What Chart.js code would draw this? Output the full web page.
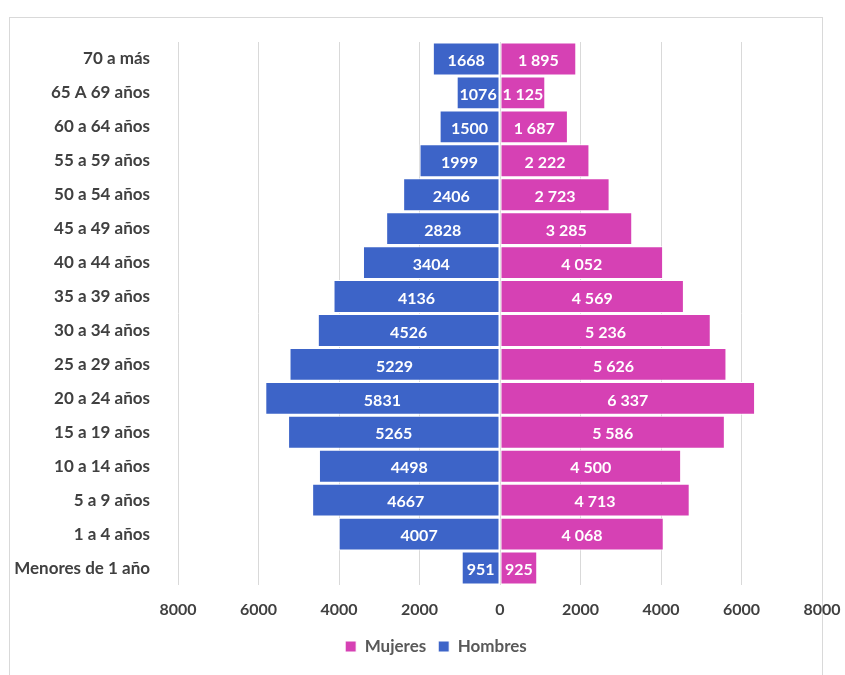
<!DOCTYPE html>
<html>
<head>
<meta charset="utf-8">
<script src="https://cdn.jsdelivr.net/npm/chart.js@4.4.1/dist/chart.umd.min.js"></script>
<style>
  body { margin: 0; background: #fff; }
  #wrap { position: relative; width: 845px; height: 675px; }
  #frame {
    position: absolute; left: 9px; top: 17px; width: 814px; height: 670px;
    border: 1px solid #d9d9d9; box-sizing: border-box;
  }
  canvas { position: absolute; left: 0; top: 0; }
</style>
</head>
<body>
<div id="wrap">
  <div id="frame"></div>
  <canvas id="pyramid" width="845" height="675"></canvas>
</div>
<script>
// age groups, top to bottom
const ageGroups = [
  "70 a más", "65 A 69 años", "60 a 64 años", "55 a 59 años", "50 a 54 años",
  "45 a 49 años", "40 a 44 años", "35 a 39 años", "30 a 34 años", "25 a 29 años",
  "20 a 24 años", "15 a 19 años", "10 a 14 años", "5 a 9 años", "1 a 4 años",
  "Menores de 1 año"
];
const hombres = [1668, 1076, 1500, 1999, 2406, 2828, 3404, 4136, 4526, 5229, 5831, 5265, 4498, 4667, 4007, 951];
const mujeres = [1895, 1125, 1687, 2222, 2723, 3285, 4052, 4569, 5236, 5626, 6337, 5586, 4500, 4713, 4068, 925];
const xTicks = [-8000, -6000, -4000, -2000, 0, 2000, 4000, 6000, 8000];

const blue = "#3d64c8";
const pink = "#d641b4";
const fontFam = "Lato, 'Open Sans', sans-serif";

// mujeres use a space as thousands separator, hombres none
function fmtSpace(v) {
  return String(v).replace(/\B(?=(\d{3})+(?!\d))/g, " ");
}

// white labels centred in each bar, clipped to the bar
const barLabels = {
  id: "barLabels",
  afterLayout(chart) {
    // legend sits a bit right of centre in the original
    chart.legend.left += 25;
    chart.legend.right += 25;
  },
  afterDatasetsDraw(chart) {
    const ctx = chart.ctx;
    chart.data.datasets.forEach((ds, i) => {
      const meta = chart.getDatasetMeta(i);
      meta.data.forEach((bar, j) => {
        const p = bar.getProps(["x", "y", "base", "height"], true);
        const left = Math.min(p.x, p.base), right = Math.max(p.x, p.base);
        const raw = Math.abs(ds.data[j]);
        const txt = ds.label === "Mujeres" ? fmtSpace(raw) : String(raw);
        ctx.save();
        ctx.beginPath();
        ctx.rect(left, p.y - p.height / 2, right - left, p.height);
        ctx.clip();
        ctx.fillStyle = "#ffffff";
        ctx.font = "bold 16px " + fontFam;
        ctx.textAlign = "center";
        ctx.textBaseline = "middle";
        ctx.fillText(txt, (left + right) / 2, p.y + 2);
        ctx.restore();
      });
    });
  }
};

new Chart(document.getElementById("pyramid"), {
  type: "bar",
  data: {
    labels: ageGroups,
    datasets: [
      {
        label: "Mujeres",
        data: mujeres,
        backgroundColor: pink,
        borderColor: "#ffffff",
        borderWidth: 1,
        borderSkipped: false,
        barPercentage: 0.97,
        categoryPercentage: 1
      },
      {
        label: "Hombres",
        data: hombres.map(v => -v),
        backgroundColor: blue,
        borderColor: "#ffffff",
        borderWidth: 1,
        borderSkipped: false,
        barPercentage: 0.97,
        categoryPercentage: 1
      }
    ]
  },
  options: {
    indexAxis: "y",
    responsive: false,
    animation: false,
    layout: { padding: { top: 42, right: 23, bottom: 10, left: 0 } },
    plugins: {
      legend: {
        position: "bottom",
        labels: {
          boxWidth: 11,
          boxHeight: 11,
          padding: 12,
          color: "#595959",
          font: { family: fontFam, size: 17, weight: "bold" }
        }
      },
      tooltip: { enabled: false }
    },
    scales: {
      x: {
        stacked: true,
        min: -8000,
        max: 8000,
        afterBuildTicks: (scale) => {
          scale.ticks = xTicks.map(v => ({ value: v }));
        },
        afterFit: (scale) => {
          scale.height = 41;
          scale.paddingLeft = 0;
          scale.paddingRight = 0;
        },
        ticks: {
          color: "#404040",
          padding: 15,
          font: { family: fontFam, size: 16, weight: "bold" },
          callback: (v) => String(Math.abs(v))
        },
        grid: { color: "#d9d9d9", drawTicks: false },
        border: { display: false }
      },
      y: {
        stacked: true,
        afterFit: (scale) => { scale.width = 178; },
        ticks: {
          color: "#404040",
          padding: 20,
          font: { family: fontFam, size: 17, weight: "bold" }
        },
        grid: { display: false },
        border: { display: false }
      }
    }
  },
  plugins: [barLabels]
});
</script>
</body>
</html>
